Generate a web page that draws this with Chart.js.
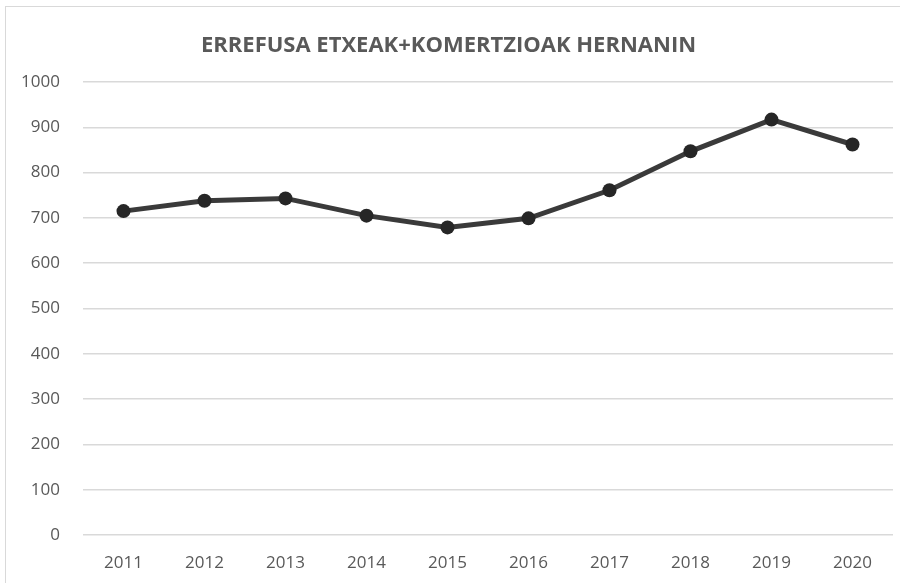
<!DOCTYPE html>
<html>
<head>
<meta charset="utf-8">
<script src="https://cdn.jsdelivr.net/npm/chart.js@4/dist/chart.umd.min.js"></script>
<style>
  html, body { margin: 0; padding: 0; background: #fff; }
  #wrap { position: relative; width: 900px; height: 583px; }
</style>
</head>
<body>
<div id="wrap"><canvas id="c" width="900" height="583"></canvas></div>
<script>
const chartTitle = "ERREFUSA ETXEAK+KOMERTZIOAK HERNANIN";
const years = ["2011","2012","2013","2014","2015","2016","2017","2018","2019","2020"];
const values = [715, 738, 743, 705, 679, 699, 761, 847, 917, 862];
const yTicks = [0,100,200,300,400,500,600,700,800,900,1000];

const FONT = "'Open Sans', sans-serif";

const framePlugin = {
  id: 'frame',
  beforeDraw(chart) {
    const ctx = chart.ctx;
    ctx.save();
    ctx.fillStyle = '#ffffff';
    ctx.fillRect(0, 0, chart.width, chart.height);
    ctx.strokeStyle = '#d9d9d9';
    ctx.lineWidth = 1;
    ctx.strokeRect(5.5, 6.5, chart.width + 10, chart.height + 10);
    ctx.restore();
  }
};

new Chart(document.getElementById('c'), {
  type: 'line',
  data: {
    labels: years,
    datasets: [{
      data: values,
      borderColor: '#3a3a3a',
      borderWidth: 5,
      pointBackgroundColor: '#262626',
      pointBorderColor: '#262626',
      pointRadius: 7,
      pointBorderWidth: 0,
      tension: 0,
      fill: false
    }]
  },
  options: {
    responsive: false,
    animation: false,
    devicePixelRatio: 1,
    layout: { padding: { left: 0, right: 3, top: 0, bottom: 0 } },
    plugins: {
      legend: { display: false },
      tooltip: { enabled: false },
      title: {
        display: true,
        text: chartTitle,
        color: '#595959',
        font: { family: FONT, size: 22, weight: 'bold', lineHeight: 1.2 },
        padding: { top: 33, bottom: 22.6 }
      }
    },
    scales: {
      x: {
        offset: true,
        grid: { display: false, drawTicks: false },
        border: { display: false },
        ticks: { color: '#595959', font: { family: FONT, size: 17 }, padding: 18, maxRotation: 0 },
        afterFit(scale) { scale.height = 48; }
      },
      y: {
        min: 0, max: 1000,
        afterBuildTicks(scale) { scale.ticks = yTicks.map(v => ({ value: v })); },
        grid: { color: '#d9d9d9', lineWidth: 1.5, drawTicks: false },
        border: { display: false },
        ticks: { color: '#595959', font: { family: FONT, size: 17 }, padding: 23, callback: v => String(v) },
        afterFit(scale) { scale.width = 83; }
      }
    }
  },
  plugins: [framePlugin]
});
</script>
</body>
</html>
